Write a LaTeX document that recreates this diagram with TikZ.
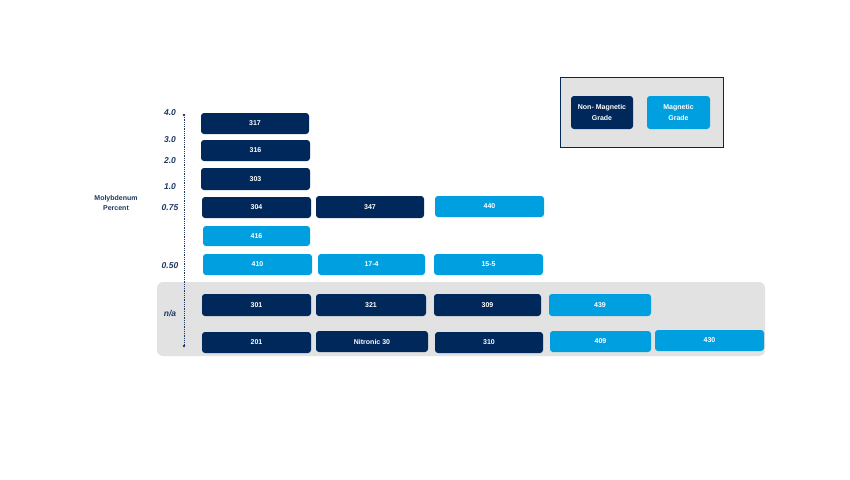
\documentclass[tikz,border=0pt]{standalone}
\usepackage{fontspec}
\setmainfont{Liberation Sans}
\usepackage{xcolor}
\usetikzlibrary{positioning}
\definecolor{navy}{HTML}{00285A}
\definecolor{sky}{HTML}{009FDF}
\definecolor{panel}{HTML}{E2E2E2}
\definecolor{axis}{HTML}{1F3860}
\begin{document}
\begin{tikzpicture}[
        x=1pt, y=-1pt,
        grade/.style={rectangle, rounded corners=3pt, minimum width=108pt, minimum height=21pt, inner sep=0pt, text=white, font=\fontsize{7}{8}\selectfont\bfseries},
        nonmag/.style={grade, fill=navy},
        mag/.style={grade, fill=sky},
        level/.style={font=\fontsize{8.5}{9}\selectfont\bfseries\itshape, text=axis, inner sep=0pt}
    ]
        \useasboundingbox (0,0) rectangle (850,479);
        % background panel for n/a grades
        \node[fill=panel, rounded corners=6pt, minimum width=608pt, minimum height=74pt, inner sep=0pt] (napanel) at (461,319) {};
        % legend
        \node[fill=panel, draw=navy, line width=0.8pt, minimum width=163pt, minimum height=70pt, inner sep=0pt] (legend) at (641.5,112) {};
        \node[nonmag, minimum width=62pt, minimum height=33pt, align=center, font=\fontsize{7}{10.5}\selectfont\bfseries] (lnm) at (602,112.5) {Non- Magnetic\\Grade};
        \node[mag, minimum width=63pt, minimum height=33pt, align=center, font=\fontsize{7}{10.5}\selectfont\bfseries] (lm) at (678.5,112.5) {Magnetic\\Grade};
        % molybdenum axis
        \coordinate (top) at (184,115);
        \coordinate (bot) at (184,346);
        \draw[axis, line width=1pt, dash pattern=on 0.8pt off 1pt] (top) -- (bot);
        \fill[axis] (top) circle (1.3pt) (bot) circle (1.3pt);
        \node[font=\fontsize{7}{10}\selectfont\bfseries, text=axis, align=center] (moly) at (116,203) {Molybdenum\\Percent};
        \node[level] (l40) at (170,113) {4.0};
        \node[level] (l30) at (170,140) {3.0};
        \node[level] (l20) at (170,161) {2.0};
        \node[level] (l10) at (170,187) {1.0};
        \node[level] (l075) at (170,208) {0.75};
        \node[level] (l050) at (170,266) {0.50};
        \node[level] (lna) at (170,313) {n/a};
        % grades
        \node[nonmag] (g317) at (255,123.5) {317};
        \node[nonmag, minimum width=109pt] (g316) at (255.5,150.5) {316};
        \node[nonmag, minimum width=109pt, minimum height=22pt] (g303) at (255.5,179) {303};
        \node[nonmag, minimum width=109pt] (g304) at (256.5,207.5) {304};
        \node[nonmag, minimum height=22pt] (g347) at (370,207) {347};
        \node[mag, minimum width=109pt] (g440) at (489.5,206.5) {440};
        \node[mag, minimum width=107pt, minimum height=20pt] (g416) at (256.5,236) {416};
        \node[mag, minimum width=109pt] (g410) at (257.5,264.5) {410};
        \node[mag, minimum width=107pt] (g174) at (371.5,264.5) {17-4};
        \node[mag, minimum width=109pt] (g155) at (488.5,264.5) {15-5};
        \node[nonmag, minimum width=109pt, minimum height=22pt] (g301) at (256.5,305) {301};
        \node[nonmag, minimum width=110pt, minimum height=22pt] (g321) at (371,305) {321};
        \node[nonmag, minimum width=107pt, minimum height=22pt] (g309) at (487.5,305) {309};
        \node[mag, minimum width=102pt, minimum height=22pt] (g439) at (600,305) {439};
        \node[nonmag, minimum width=109pt] (g201) at (256.5,342.5) {201};
        \node[nonmag, minimum width=112pt] (gn30) at (372,341.5) {Nitronic 30};
        \node[nonmag] (g310) at (489,342.5) {310};
        \node[mag, minimum width=101pt] (g409) at (600.5,341.5) {409};
        \node[mag, minimum width=109pt] (g430) at (709.5,340.5) {430};
    \end{tikzpicture}
\end{document}
